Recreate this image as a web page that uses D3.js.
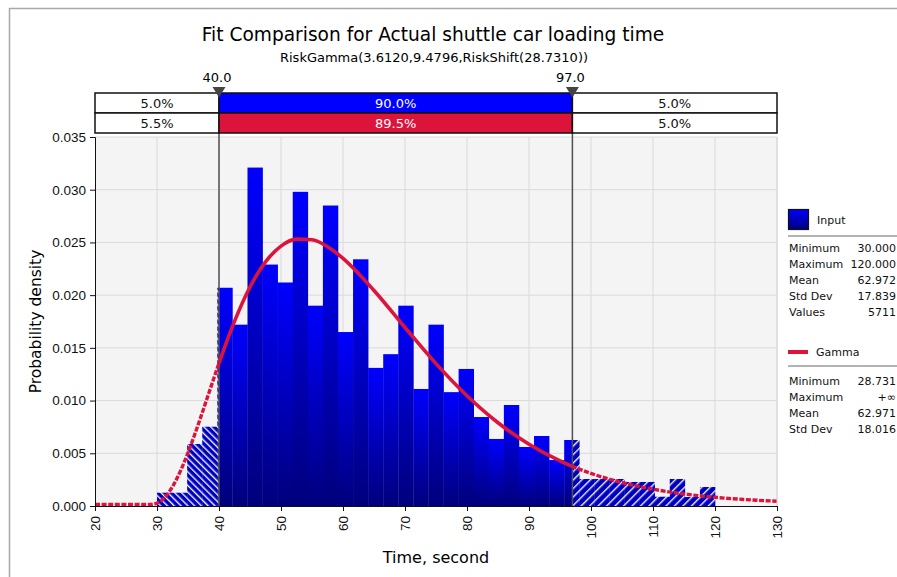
<!DOCTYPE html>
<html>
<head>
<meta charset="utf-8">
<script src="https://cdn.jsdelivr.net/npm/d3@7"></script>
<style>
  body { margin: 0; background: #fff; }
  svg { display: block; font-family: "DejaVu Sans", Verdana, sans-serif; }
</style>
</head>
<body>
<script>
// histogram of the input: equal bins from binMin to binMax, density per bin
const binMin = 30;
const binMax = 120;
const density = [0.00126, 0.00126, 0.00588, 0.00752, 0.0207, 0.0172, 0.0321, 0.0229,
  0.0212, 0.0298, 0.0190, 0.0285, 0.0165, 0.0234, 0.0131, 0.0144, 0.0190, 0.0111,
  0.0172, 0.0108, 0.0130, 0.00844, 0.00636, 0.00958, 0.0056, 0.00664, 0.00436, 0.00626,
  0.00256, 0.00256, 0.00256, 0.00228, 0.00228, 0.00088, 0.00256, 0.00085, 0.0018];

// fitted gamma curve
const fitX = [20, 28.73, 29, 30, 31, 32, 33, 34, 35, 36, 37, 38, 39, 40, 42.5, 45, 47.5, 50,
  52.5, 55, 57.5, 60, 65, 70, 75, 80, 85, 90, 95, 97, 100, 105, 110, 115, 120, 125, 130];
const fitY = [0, 0, 0.000003, 0.000128, 0.000526, 0.00123, 0.00222, 0.00346, 0.00491, 0.0065,
  0.00819, 0.00993, 0.01168, 0.0134, 0.01737, 0.02063, 0.02301, 0.02451, 0.02517, 0.02511,
  0.02445, 0.02335, 0.0203, 0.01679, 0.01336, 0.01031, 0.00775, 0.00572, 0.00414, 0.00362,
  0.00295, 0.00208, 0.00145, 0.001, 0.000684, 0.000464, 0.000312];

const xTicks = [20, 30, 40, 50, 60, 70, 80, 90, 100, 110, 120, 130];
const yTicks = [0, 0.005, 0.01, 0.015, 0.02, 0.025, 0.03, 0.035];

const markers = [40.0, 97.0];
const inputPct = ["5.0%", "90.0%", "5.0%"];
const fitPct = ["5.5%", "89.5%", "5.0%"];

const inputStats = [["Minimum", "30.000"], ["Maximum", "120.000"], ["Mean", "62.972"],
  ["Std Dev", "17.839"], ["Values", "5711"]];
const gammaStats = [["Minimum", "28.731"], ["Maximum", "+\u221e"], ["Mean", "62.971"],
  ["Std Dev", "18.016"]];

const width = 897, height = 577;
const plot = {left: 95, right: 777, top: 137, bottom: 506};
const red = "#dc143c";

const svg = d3.select("body").append("svg")
  .attr("width", width)
  .attr("height", height);

// outer frame (only top and left edges are inside the picture)
svg.append("rect")
  .attr("x", 9.5).attr("y", 8.5)
  .attr("width", 1000).attr("height", 1000)
  .attr("fill", "none").attr("stroke", "#a8a8a8").attr("stroke-width", 1.5);

const x = d3.scaleLinear().domain([20, 130]).range([plot.left, plot.right]);
const y = d3.scaleLinear().domain([0, 0.035]).range([plot.bottom, plot.top]);

const xa = x(markers[0]), xb = x(markers[1]);

// defs: gradient, hatches, clips
const defs = svg.append("defs");
const grad = defs.append("linearGradient").attr("id", "barGrad")
  .attr("x1", 0).attr("y1", 0).attr("x2", 0).attr("y2", 1);
grad.append("stop").attr("offset", "0%").attr("stop-color", "#0000ff");
grad.append("stop").attr("offset", "100%").attr("stop-color", "#00007c");

function hatch(id, angle, size) {
  const p = defs.append("pattern").attr("id", id)
    .attr("patternUnits", "userSpaceOnUse")
    .attr("width", size).attr("height", size)
    .attr("patternTransform", `rotate(${angle})`);
  p.append("rect").attr("width", size).attr("height", size).attr("fill", "#0000c0");
  p.append("line").attr("x1", 0.7).attr("x2", 0.7).attr("y1", 0).attr("y2", size)
    .attr("stroke", "#fff").attr("stroke-width", 1.3);
}
hatch("hatchL", -45, 4.8);
hatch("hatchR", 45, 6);

function clip(id, ranges) {
  const c = defs.append("clipPath").attr("id", id);
  ranges.forEach(([a, b]) => c.append("rect")
    .attr("x", a).attr("y", plot.top - 10).attr("width", b - a).attr("height", plot.bottom - plot.top + 10));
}
clip("clipIn", [[xa, xb]]);
clip("clipLeft", [[plot.left, xa]]);
clip("clipRight", [[xb, plot.right]]);
clip("clipOut", [[plot.left, xa], [xb, plot.right]]);

// plot background and grid
svg.append("rect")
  .attr("x", plot.left).attr("y", plot.top)
  .attr("width", plot.right - plot.left).attr("height", plot.bottom - plot.top)
  .attr("fill", "#f4f4f4");

svg.append("g").selectAll("line")
  .data(xTicks.slice(1))
  .join("line")
  .attr("x1", d => x(d)).attr("x2", d => x(d))
  .attr("y1", plot.top).attr("y2", plot.bottom)
  .attr("stroke", "#dadada");

svg.append("g").selectAll("line")
  .data(yTicks.slice(1))
  .join("line")
  .attr("x1", plot.left).attr("x2", plot.right)
  .attr("y1", d => y(d)).attr("y2", d => y(d))
  .attr("stroke", "#dadada");

// histogram bars
const bw = (binMax - binMin) / density.length;
const bins = density.map((v, i) => ({x0: binMin + i * bw, x1: binMin + (i + 1) * bw, v}));

[["clipIn", "url(#barGrad)"], ["clipLeft", "url(#hatchL)"], ["clipRight", "url(#hatchR)"]]
  .forEach(([clipId, fill]) => {
    svg.append("g")
      .attr("clip-path", `url(#${clipId})`)
      .selectAll("rect")
      .data(bins)
      .join("rect")
      .attr("x", d => x(d.x0))
      .attr("width", d => x(d.x1) - x(d.x0) + 0.3)
      .attr("y", d => y(d.v))
      .attr("height", d => y(0) - y(d.v))
      .attr("fill", fill);
  });

// marker lines
svg.append("g").selectAll("line")
  .data(markers)
  .join("line")
  .attr("x1", d => x(d)).attr("x2", d => x(d))
  .attr("y1", 93).attr("y2", plot.bottom)
  .attr("stroke", "#505050").attr("stroke-width", 1.5);

// fitted curve
const fit = fitX.map((d, i) => [d, fitY[i]]);
const line = d3.line()
  .x(d => x(d[0]))
  .y(d => y(d[1]) - 1.5)
  .curve(d3.curveMonotoneX);

svg.append("path")
  .datum(fit)
  .attr("clip-path", "url(#clipIn)")
  .attr("d", line)
  .attr("fill", "none")
  .attr("stroke", red)
  .attr("stroke-width", 3.6);

svg.append("path")
  .datum(fit)
  .attr("clip-path", "url(#clipOut)")
  .attr("d", line)
  .attr("fill", "none")
  .attr("stroke", red)
  .attr("stroke-width", 3.4)
  .attr("stroke-dasharray", "5,1.6");

// right plot edge
svg.append("line")
  .attr("x1", plot.right).attr("x2", plot.right)
  .attr("y1", plot.top).attr("y2", plot.bottom)
  .attr("stroke", "#d6d6d6");

// axes
const yAxis = svg.append("g")
  .attr("transform", `translate(${plot.left},0)`)
  .call(d3.axisLeft(y).tickValues(yTicks).tickFormat(d3.format(".3f")).tickSize(5).tickPadding(4));
yAxis.selectAll("text").attr("font-size", 13.5).attr("font-family", null).attr("fill", "#111");

const xAxis = svg.append("g")
  .attr("transform", `translate(0,${plot.bottom})`)
  .call(d3.axisBottom(x).tickValues(xTicks).tickFormat(d3.format("d")).tickSize(5));
xAxis.selectAll("text")
  .attr("font-size", 13.5).attr("font-family", null).attr("fill", "#111")
  .attr("transform", "rotate(-90)")
  .attr("x", -10).attr("y", 0).attr("dy", "0.35em")
  .style("text-anchor", "end");
svg.selectAll(".domain, .tick line").attr("stroke", "#111");

// titles
svg.append("text")
  .attr("x", 433).attr("y", 41)
  .attr("text-anchor", "middle").attr("font-size", 18.6)
  .text("Fit Comparison for Actual shuttle car loading time");

svg.append("text")
  .attr("x", 434).attr("y", 62)
  .attr("text-anchor", "middle").attr("font-size", 13)
  .text("RiskGamma(3.6120,9.4796,RiskShift(28.7310))");

svg.append("text")
  .attr("x", (plot.left + plot.right) / 2).attr("y", 563)
  .attr("text-anchor", "middle").attr("font-size", 16)
  .text("Time, second");

svg.append("text")
  .attr("transform", `translate(41,${(plot.top + plot.bottom) / 2}) rotate(-90)`)
  .attr("text-anchor", "middle").attr("font-size", 15.5)
  .text("Probability density");

// delimiter bars
const segs = [[plot.left, xa], [xa, xb], [xb, plot.right]];
const rows = [
  {y: 93, pct: inputPct, mid: "#0000ff"},
  {y: 113, pct: fitPct, mid: red}
];
rows.forEach(r => {
  const g = svg.append("g");
  g.selectAll("rect")
    .data(segs)
    .join("rect")
    .attr("x", d => d[0]).attr("y", r.y)
    .attr("width", d => d[1] - d[0]).attr("height", 20)
    .attr("fill", (d, i) => i === 1 ? r.mid : "#fff")
    .attr("stroke", "#111").attr("stroke-width", 1.5);
  g.selectAll("text")
    .data(segs)
    .join("text")
    .attr("x", d => (d[0] + d[1]) / 2).attr("y", r.y + 15)
    .attr("text-anchor", "middle").attr("font-size", 13)
    .attr("fill", (d, i) => i === 1 ? "#fff" : "#111")
    .text((d, i) => r.pct[i]);
});

// marker triangles and labels
const mk = svg.append("g").selectAll("g")
  .data(markers)
  .join("g")
  .attr("transform", d => `translate(${x(d)},0)`);
mk.append("path")
  .attr("d", "M-6.5,87L6.5,87L0,97.5Z")
  .attr("fill", "#444");
mk.append("text")
  .attr("x", -2).attr("y", 82)
  .attr("text-anchor", "middle").attr("font-size", 13)
  .text(d => d.toFixed(1));

// legend
const lg = svg.append("g").attr("font-size", 11).attr("fill", "#111");
lg.append("rect")
  .attr("x", 788.5).attr("y", 209.5).attr("width", 20).attr("height", 20)
  .attr("fill", "url(#barGrad)").attr("stroke", "#111").attr("stroke-width", 1.2);
lg.append("text").attr("x", 817).attr("y", 224).text("Input");
lg.append("line")
  .attr("x1", 788).attr("x2", 897).attr("y1", 236).attr("y2", 236)
  .attr("stroke", "#9a9a9a").attr("stroke-width", 1.5);

function statRows(stats, top) {
  const g = lg.append("g");
  g.selectAll("text.k")
    .data(stats)
    .join("text")
    .attr("class", "k")
    .attr("x", 789).attr("y", (d, i) => top + i * 16)
    .text(d => d[0]);
  g.selectAll("text.v")
    .data(stats)
    .join("text")
    .attr("class", "v")
    .attr("x", 896).attr("y", (d, i) => top + i * 16)
    .attr("text-anchor", "end")
    .text(d => d[1]);
}
statRows(inputStats, 252);

lg.append("line")
  .attr("x1", 788).attr("x2", 808).attr("y1", 352).attr("y2", 352)
  .attr("stroke", red).attr("stroke-width", 4);
lg.append("text").attr("x", 816).attr("y", 356).text("Gamma");
lg.append("line")
  .attr("x1", 788).attr("x2", 897).attr("y1", 366).attr("y2", 366)
  .attr("stroke", "#9a9a9a").attr("stroke-width", 1.5);
statRows(gammaStats, 385);
</script>
</body>
</html>
